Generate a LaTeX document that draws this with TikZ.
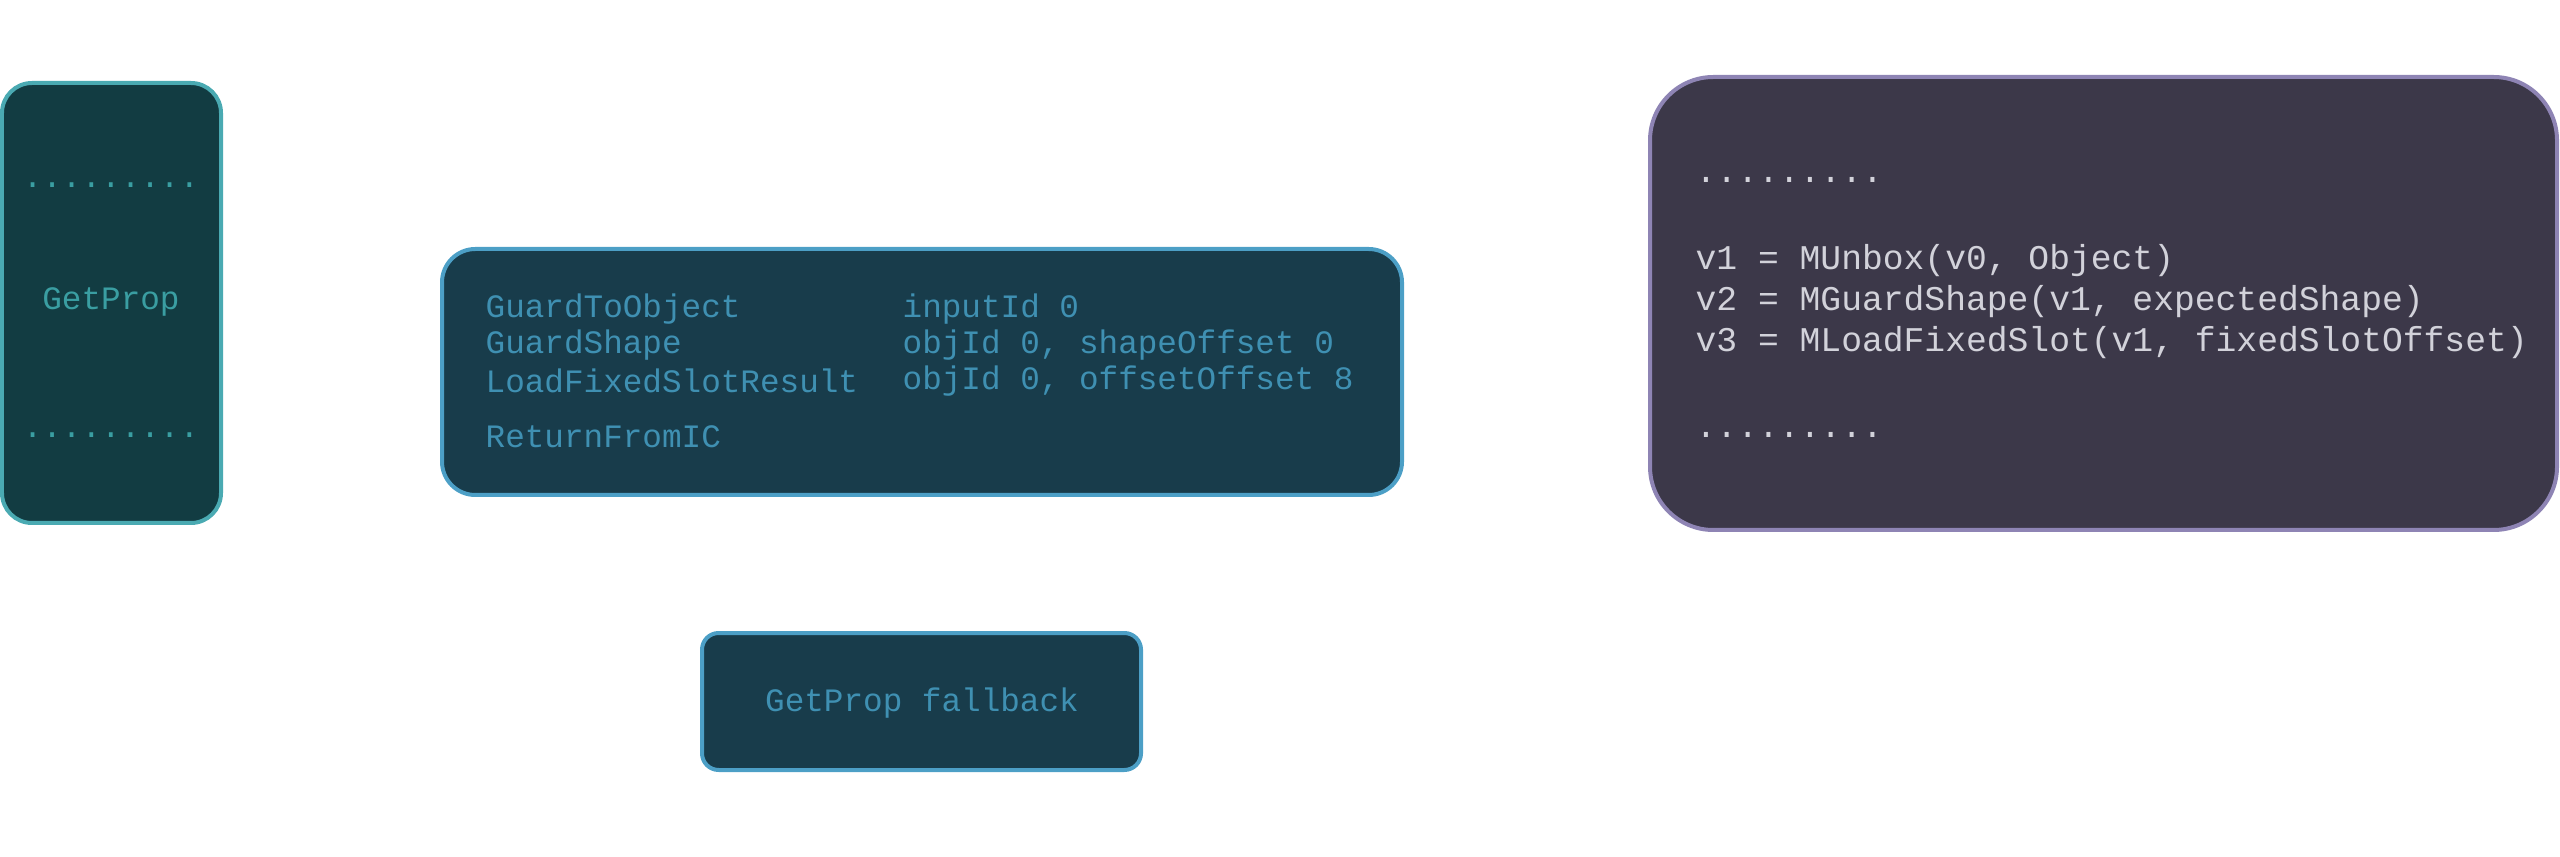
\documentclass[tikz,border=0pt]{standalone}
\usepackage{fontspec}
\setmainfont{Liberation Mono}
\begin{document}
\begin{tikzpicture}[x=0.3pt,y=-0.3pt,
  box/.style={line width=1.2pt},
  t/.style={anchor=west,inner sep=0pt,font=\fontsize{9.8pt}{12pt}\selectfont},
  tc/.style={inner sep=0pt,font=\fontsize{9.8pt}{12pt}\selectfont}]
\useasboundingbox (0,0) rectangle (2560,857);
\definecolor{lf}{HTML}{123C42}\definecolor{ls}{HTML}{4AAAB2}\definecolor{lt}{HTML}{3A9EA2}
\definecolor{mf}{HTML}{183C4B}\definecolor{ms}{HTML}{4C9FC6}\definecolor{mt}{HTML}{3F90B2}
\definecolor{rf}{HTML}{3C3849}\definecolor{rs}{HTML}{8E84B4}\definecolor{rt}{HTML}{D2D2DA}
\draw[box,fill=lf,draw=ls,rounded corners=9pt] (2,83) rectangle (221,523);
\draw[box,fill=mf,draw=ms,rounded corners=10pt] (442,249) rectangle (1402,495);
\draw[box,fill=mf,draw=ms,rounded corners=5pt] (702,633) rectangle (1141,770);
\draw[box,fill=rf,draw=rs,rounded corners=19pt] (1650,77) rectangle (2557,530);
\node[tc,text=lt] (d1) at (111,185) {.........};
\node[tc,text=lt] (gp) at (111,302) {GetProp};
\node[tc,text=lt] (d2) at (111,435) {.........};
\foreach \a/\b/\y in {GuardToObject/inputId 0/309, GuardShape/{objId 0, shapeOffset 0}/345, LoadFixedSlotResult/{objId 0, offsetOffset 8}/381, ReturnFromIC//437}{
  \node[t,text=mt] at (485,\y) {\a};
  \node[t,text=mt] at (902,\y) {\b};
}
\node[tc,text=mt] (fb) at (922,703) {GetProp fallback};
\begin{scope}[t/.append style={font=\fontsize{10.4pt}{12pt}\selectfont,text=rt}]
\node[t] (r0) at (1695,180) {.........};
\node[t] (r1) at (1695,261) {v1 = MUnbox(v0, Object)};
\node[t] (r2) at (1695,302) {v2 = MGuardShape(v1, expectedShape)};
\node[t] (r3) at (1695,343) {v3 = MLoadFixedSlot(v1, fixedSlotOffset)};
\node[t] (r4) at (1695,435) {.........};
\end{scope}
\end{tikzpicture}
\end{document}
